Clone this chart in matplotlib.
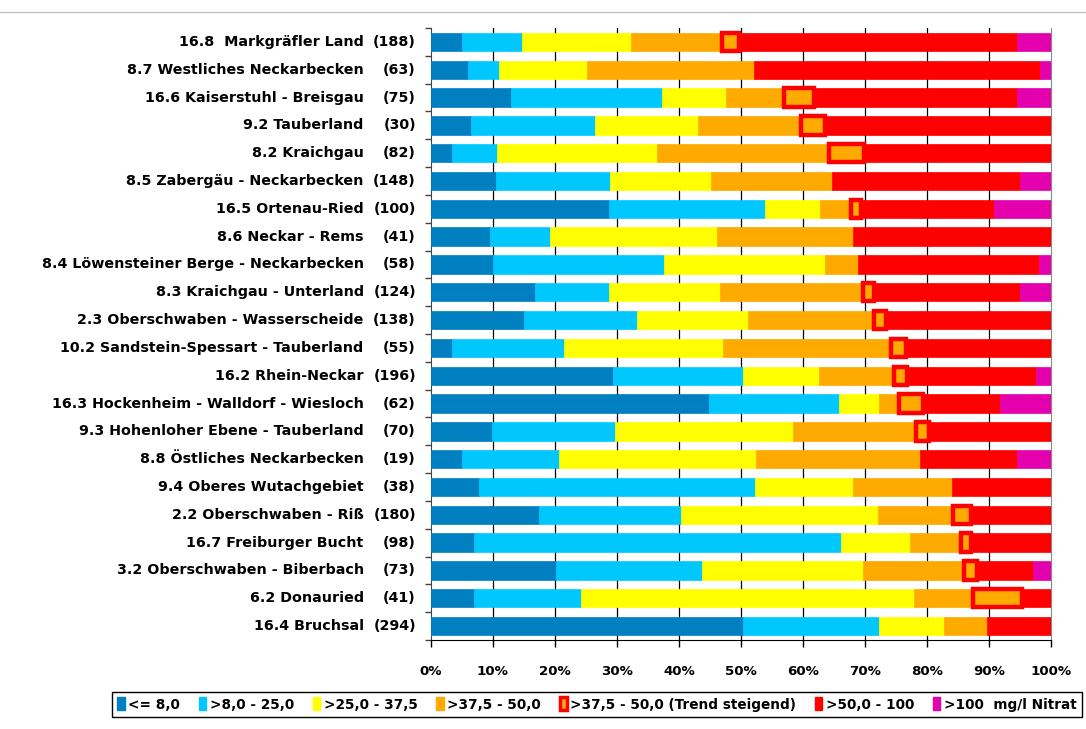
import matplotlib
matplotlib.use("Agg")
import matplotlib.pyplot as plt
from matplotlib.patches import Patch
from matplotlib.lines import Line2D

# Regions (top to bottom as in the chart)
codes = ['16.8 ', '8.7', '16.6', '9.2', '8.2', '8.5', '16.5', '8.6', '8.4', '8.3', '2.3',
         '10.2', '16.2', '16.3', '9.3', '8.8', '9.4', '2.2', '16.7', '3.2', '6.2', '16.4']
names = ['Markgräfler Land', 'Westliches Neckarbecken', 'Kaiserstuhl - Breisgau', 'Tauberland',
         'Kraichgau', 'Zabergäu - Neckarbecken', 'Ortenau-Ried', 'Neckar - Rems',
         'Löwensteiner Berge - Neckarbecken', 'Kraichgau - Unterland',
         'Oberschwaben - Wasserscheide', 'Sandstein-Spessart - Tauberland', 'Rhein-Neckar',
         'Hockenheim - Walldorf - Wiesloch', 'Hohenloher Ebene - Tauberland',
         'Östliches Neckarbecken', 'Oberes Wutachgebiet', 'Oberschwaben - Riß',
         'Freiburger Bucht', 'Oberschwaben - Biberbach', 'Donauried', 'Bruchsal']
counts = [188, 63, 75, 30, 82, 148, 100, 41, 58, 124, 138, 55, 196, 62, 70, 19, 38, 180, 98, 73, 41, 294]

# share of measuring points per nitrate class in percent
le_8 = [5.0, 6.0, 13.0, 6.5, 3.5, 10.5, 28.7, 9.5, 10.0, 16.8, 15.0,
        3.5, 29.4, 44.9, 9.8, 5.0, 7.8, 17.5, 7.0, 20.2, 7.0, 50.4]
gt8_25 = [9.7, 5.0, 24.2, 20.0, 7.2, 18.4, 25.2, 9.7, 27.6, 11.9, 18.2,
          17.9, 21.0, 20.9, 19.9, 15.7, 44.5, 22.9, 59.1, 23.5, 17.2, 21.8]
gt25_37 = [17.5, 14.2, 10.4, 16.6, 25.7, 16.3, 8.9, 26.9, 26.0, 17.9, 18.0,
           25.7, 12.2, 6.4, 28.7, 31.7, 15.7, 31.7, 11.2, 25.9, 53.6, 10.5]
gt37_50 = [14.8, 26.9, 9.4, 16.6, 27.8, 19.4, 4.9, 21.9, 5.2, 23.1, 20.3,
           27.1, 12.1, 3.3, 19.8, 26.4, 16.0, 12.1, 8.1, 16.3, 9.6, 7.0]
gt37_50_trend = [2.7, 0, 4.7, 3.9, 5.7, 0, 1.6, 0, 0, 1.7, 1.8,
                 2.4, 2.1, 3.8, 2.1, 0, 0, 2.8, 1.7, 2.1, 7.9, 0]
gt50_100 = [44.8, 46.1, 32.8, 36.4, 30.1, 30.4, 21.5, 32.0, 29.2, 23.6, 26.7,
            23.4, 20.8, 12.4, 19.7, 15.7, 16.0, 13.0, 12.9, 9.0, 4.7, 10.3]
gt100 = [5.5, 1.8, 5.5, 0, 0, 5.0, 9.2, 0, 2.0, 5.0, 0,
         0, 2.4, 8.3, 0, 5.5, 0, 0, 0, 3.0, 0, 0]

classes = ['<= 8,0', '>8,0 - 25,0', '>25,0 - 37,5', '>37,5 - 50,0',
           '>37,5 - 50,0 (Trend steigend)', '>50,0 - 100', '>100  mg/l Nitrat']
series = [le_8, gt8_25, gt25_37, gt37_50, gt37_50_trend, gt50_100, gt100]
colors = ['#0080C0', '#00C8FF', '#FFFF00', '#FFAA00', '#FFAA00', '#FF0000', '#E400AC']

FONT = ['DejaVu Sans']

W, H = 1086, 729
fig = plt.figure(figsize=(W / 100, H / 100), dpi=100)
ax = fig.add_axes([430.7 / W, 1 - 640 / H, 620.6 / W, 612 / H])

n = len(names)
left = [0.0] * n
for k, (vals, col) in enumerate(zip(series, colors)):
    for i, v in enumerate(vals):
        if v <= 0:
            continue
        if k == 4:
            # rising trend: orange box with thick red frame
            ax.barh(i, v, left=left[i], height=0.66, color=col, edgecolor='#FF0000',
                    linewidth=3.2, zorder=4)
        else:
            ax.barh(i, v, left=left[i], height=0.66, color=col, edgecolor=col,
                    linewidth=0.5, zorder=3)
        left[i] += v

ax.set_xlim(0, 100)
ax.set_ylim(n - 0.5, -0.5)
ax.set_xticks(range(0, 101, 10))
ax.set_xticklabels([f'{t}%' for t in range(0, 101, 10)], fontsize=9.6, fontweight='bold',
                   family=FONT)
ax.tick_params(axis='x', length=5, width=1, pad=13, color='black')
ax.set_yticks([i - 0.5 for i in range(n + 1)])
ax.set_yticklabels([])
ax.tick_params(axis='y', length=4, width=1, color='#444444')
for t in range(10, 100, 10):
    ax.axvline(t, color='black', lw=0.9, zorder=1)
ax.spines['top'].set_visible(False)
ax.spines['right'].set_color('#888888')
ax.spines['left'].set_color('#444444')
ax.spines['bottom'].set_color('black')

# row labels: name right-aligned, count in its own column
lab_font = dict(fontsize=10.3, fontweight='bold', family=FONT,
                va='center', ha='right', transform=ax.get_yaxis_transform())
fig.canvas.draw()
renderer = fig.canvas.get_renderer()
inv = ax.transAxes.inverted()
for i in range(n):
    ct = ax.text(-0.0237, i, f'({counts[i]})', **lab_font)
    bb = ct.get_window_extent(renderer)
    cleft = inv.transform((bb.x0, bb.y0))[0]
    xname = min(-0.108, cleft - 0.008)
    ax.text(xname, i, f'{codes[i]} {names[i]}', **lab_font)

# legend
handles = []
for k, col in enumerate(colors):
    if k == 4:
        handles.append(Patch(facecolor=col, edgecolor='#FF0000', linewidth=2.5))
    else:
        handles.append(Patch(facecolor=col, edgecolor=col))
leg = fig.legend(handles, classes, loc='center', ncol=7,
                 bbox_to_anchor=(112 / W, 1 - 719 / H, 970 / W, 29 / H), mode='expand',
                 prop={'family': FONT, 'weight': 'bold', 'size': 9.8},
                 handlelength=0.55, handleheight=1.1, handletextpad=0.25, columnspacing=0.6,
                 borderpad=0.4, borderaxespad=0, fancybox=False, framealpha=1)
leg.get_frame().set_edgecolor('black')
leg.get_frame().set_linewidth(1.0)

# light frame line at the top of the chart area
fig.add_artist(Line2D([0, 1], [1 - 12 / H, 1 - 12 / H], color='#C0C0C0', lw=1))

fig.savefig('out.png', dpi=100)
